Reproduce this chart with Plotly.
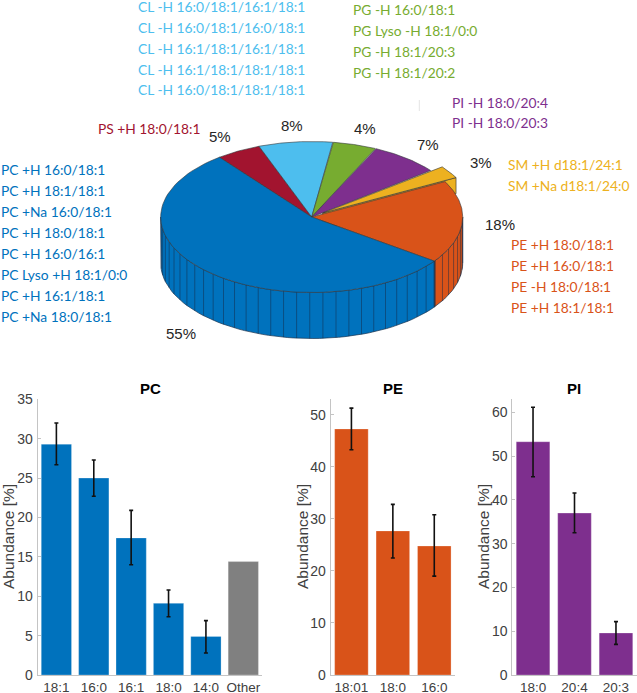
import numpy as np
import plotly.graph_objects as go

# ---------- data ----------
pie_names = ["PS", "CL", "PG", "PI", "SM", "PE", "PC"]
pie_values = [4.8, 7.9, 4.7, 7.5, 2.8, 17.7, 54.6]
pie_pct_labels = ["5%", "8%", "4%", "7%", "3%", "18%", "55%"]
pie_colors = ["#A2142F", "#4DBEEE", "#77AC30", "#7E2F8E", "#EDB120", "#D95319", "#0072BD"]

pc_cats = ["18:1", "16:0", "16:1", "18:0", "14:0", "Other"]
pc_vals = [29.3, 25.0, 17.4, 9.1, 4.9, 14.4]
pc_hi = [32.0, 27.3, 20.9, 10.8, 6.9, None]
pc_lo = [26.7, 22.7, 14.0, 7.4, 2.8, None]

pe_cats = ["18:01", "18:0", "16:0"]
pe_vals = [47.3, 27.7, 24.8]
pe_hi = [51.3, 32.8, 30.8]
pe_lo = [43.3, 22.5, 19.0]

pi_cats = ["18:0", "20:4", "20:3"]
pi_vals = [53.3, 37.0, 9.6]
pi_hi = [61.2, 41.6, 12.2]
pi_lo = [45.3, 32.5, 7.0]

label_groups = [
    (["PC +H 16:0/18:1", "PC +H 18:1/18:1", "PC +Na 16:0/18:1", "PC +H 18:0/18:1",
      "PC +H 16:0/16:1", "PC Lyso +H 18:1/0:0", "PC +H 16:1/18:1", "PC +Na 18:0/18:1"],
     "#0072BD", 0, 169, 21),
    (["PS +H 18:0/18:1"], "#A2142F", 97, 128.3, 0),
    (["CL -H 16:0/18:1/16:1/18:1", "CL -H 16:0/18:1/16:0/18:1", "CL -H 16:1/18:1/16:1/18:1",
      "CL -H 16:1/18:1/18:1/18:1", "CL -H 16:0/18:1/18:1/18:1"],
     "#4DBEEE", 137, 6.7, 20.8),
    (["PG -H 16:0/18:1", "PG Lyso -H 18:1/0:0", "PG -H 18:1/20:3", "PG -H 18:1/20:2"],
     "#77AC30", 351.7, 9.3, 20.9),
    (["PI -H 18:0/20:4", "PI -H 18:0/20:3"], "#7E2F8E", 450.7, 102, 20.7),
    (["SM +H d18:1/24:1", "SM +Na d18:1/24:0"], "#EDB120", 507, 164, 21),
    (["PE +H 18:0/18:1", "PE +H 16:0/18:1", "PE -H 18:0/18:1", "PE +H 18:1/18:1"],
     "#D95319", 510, 244, 21),
]
pct_pos = [(220, 136), (292, 125), (365, 128), (427.7, 144), (480.7, 162), (500, 224), (180.7, 333)]

# ---------- layout constants (pixels) ----------
W, H = 637, 693
CX, CY, RX, RY, DEPTH = 311.7, 217, 151, 75.5, 46
START_DEG = -37.7
EXPLODE = {"SM": (11, -4)}
RIB_DEG = 5
FONT = "Liberation Sans, Arial, sans-serif"
LABEL_FONT = "Lato, Open Sans, sans-serif"
INK = "#404040"

fig = go.Figure()

# ---------- pie: elliptical wedges whose angles come from pie_values ----------
total = sum(pie_values)
edges = START_DEG + np.concatenate([[0], np.cumsum(pie_values)]) / total * 360


def pt(deg, dx=0, dy=0, depth=0):
    r = np.radians(deg)
    return CX + dx + RX * np.sin(r), CY + dy - RY * np.cos(r) + depth


def add_poly(xs, ys, color, line="#2b2b2b", width=0.6):
    fig.add_trace(go.Scatter(x=xs, y=ys, xaxis="x4", yaxis="y4", mode="lines", fill="toself",
                             fillcolor=color, line=dict(color=line, width=width),
                             hoverinfo="skip", showlegend=False))


for i, name in enumerate(pie_names):
    a0, a1 = edges[i], edges[i + 1]
    dx, dy = EXPLODE.get(name, (0, 0))
    lo, hi = max(a0, 90), min(a1, 270)
    if name in EXPLODE:
        xs0, ys0 = pt(a1, dx, dy)
        xs1, ys1 = pt(a1, dx, dy, DEPTH * 0.35)
        xc, yc = CX + dx, CY + dy
        add_poly([xs0, xs1, xc, xc, xs0], [ys0, ys1, yc + DEPTH * 0.35, yc, ys0], pie_colors[i])
    if lo < hi:
        ang = np.linspace(lo, hi, 60)
        top = [pt(a, dx, dy) for a in ang]
        bot = [pt(a, dx, dy, DEPTH) for a in ang[::-1]]
        pts = top + bot + [top[0]]
        add_poly([p[0] for p in pts], [p[1] for p in pts], pie_colors[i], line="#1c3550", width=0.7)
        rx_, ry_ = [], []
        for a in np.arange(lo, hi, RIB_DEG):
            p, q = pt(a, dx, dy), pt(a, dx, dy, DEPTH)
            rx_ += [p[0], q[0], None]
            ry_ += [p[1], q[1], None]
        fig.add_trace(go.Scatter(x=rx_, y=ry_, xaxis="x4", yaxis="y4", mode="lines",
                                 line=dict(color="rgba(20,40,70,0.7)", width=0.7),
                                 hoverinfo="skip", showlegend=False))

for i, name in enumerate(pie_names):
    a0, a1 = edges[i], edges[i + 1]
    dx, dy = EXPLODE.get(name, (0, 0))
    ang = np.linspace(a0, a1, 80)
    pts = [pt(a, dx, dy) for a in ang]
    xs = [CX + dx] + [p[0] for p in pts] + [CX + dx]
    ys = [CY + dy] + [p[1] for p in pts] + [CY + dy]
    add_poly(xs, ys, pie_colors[i], line="#33373b", width=0.6)

# ---------- bars ----------
panels = [
    ("x", "y", pc_cats, pc_vals, pc_hi, pc_lo, "#0072BD"),
    ("x2", "y2", pe_cats, pe_vals, pe_hi, pe_lo, "#D95319"),
    ("x3", "y3", pi_cats, pi_vals, pi_hi, pi_lo, "#7E2F8E"),
]
bar_line = dict(color="rgba(255,255,255,0.25)", width=1)
for xa, ya, cats, vals, hi, lo, col in panels:
    has = [k for k, h in enumerate(hi) if h is not None]
    none = [k for k, h in enumerate(hi) if h is None]
    fig.add_trace(go.Bar(x=[cats[k] for k in has], y=[vals[k] for k in has], xaxis=xa, yaxis=ya, width=0.81,
                         marker=dict(color=col, line=bar_line),
                         error_y=dict(type="data", symmetric=False,
                                      array=[hi[k] - vals[k] for k in has],
                                      arrayminus=[vals[k] - lo[k] for k in has],
                                      color="#111111", thickness=1.6, width=2),
                         showlegend=False, hoverinfo="skip"))
    if none:
        fig.add_trace(go.Bar(x=[cats[k] for k in none], y=[vals[k] for k in none], xaxis=xa, yaxis=ya,
                             width=0.81, marker=dict(color="#808080", line=bar_line),
                             showlegend=False, hoverinfo="skip"))

# ---------- annotations (placed on the pixel overlay axes) ----------
ann = []


def text(x, y, s, color, size, family=LABEL_FONT, anchor="left", bold=False, rot=0):
    ann.append(dict(x=x, y=y, xref="x4", yref="y4", text=f"<b>{s}</b>" if bold else s,
                    showarrow=False, xanchor=anchor, yanchor="middle", textangle=rot, borderpad=0,
                    font=dict(family=family, size=size, color=color)))


for lines, color, x, y, step in label_groups:
    for k, s in enumerate(lines):
        text(x, y + k * step, s, color, 13.8)
for (x, y), s in zip(pct_pos, pie_pct_labels):
    text(x, y, s, "#262626", 15, family=FONT, anchor="center")

text(150, 388, "PC", "#000000", 15, family=FONT, anchor="center", bold=True)
text(393, 388, "PE", "#000000", 15, family=FONT, anchor="center", bold=True)
text(574, 388, "PI", "#000000", 15, family=FONT, anchor="center", bold=True)
text(8, 537, "Abundance [%]", INK, 15.5, family=FONT, anchor="center", rot=-90)
text(302, 537, "Abundance [%]", INK, 15.5, family=FONT, anchor="center", rot=-90)
text(483, 537, "Abundance [%]", INK, 15.5, family=FONT, anchor="center", rot=-90)


def xaxis(x0, x1, ycol, order):
    return dict(domain=[x0 / W, x1 / W], anchor=ycol, type="category", categoryorder="array",
                categoryarray=order, showgrid=False, zeroline=False, automargin=False,
                showline=True, linecolor="#c4c4c4", linewidth=1, ticks="", fixedrange=True,
                tickfont=dict(family=FONT, size=13.5, color=INK), ticklen=0, ticklabelstandoff=0)


def yaxis(top, dtick, xcol):
    return dict(domain=[1 - 675 / H, 1 - 399.3 / H], anchor=xcol, range=[0, top], dtick=dtick,
                showgrid=False, zeroline=False, showline=True, linecolor="#c4c4c4", linewidth=1,
                ticks="inside", ticklen=3, tickcolor="#c4c4c4", fixedrange=True, automargin=False,
                tickfont=dict(family=FONT, size=14, color=INK), ticklabelstandoff=1)


fig.update_layout(
    width=W, height=H, autosize=False, margin=dict(l=0, r=0, t=0, b=0, pad=0),
    paper_bgcolor="white", plot_bgcolor="rgba(0,0,0,0)", showlegend=False, barmode="overlay",
    xaxis=xaxis(37.7, 262, "y", pc_cats), yaxis=yaxis(35, 5, "x"),
    xaxis2=xaxis(330.7, 455, "y2", pe_cats), yaxis2=yaxis(53, 10, "x2"),
    xaxis3=xaxis(512.3, 636.7, "y3", pi_cats), yaxis3=yaxis(63, 10, "x3"),
    xaxis4=dict(domain=[0, 1], range=[0, W], visible=False, anchor="y4", fixedrange=True, automargin=False),
    yaxis4=dict(domain=[0, 1], range=[H, 0], visible=False, anchor="x4", fixedrange=True, automargin=False),
    annotations=ann,
    shapes=[dict(type="line", xref="x4", yref="y4", x0=419.3, x1=419.3, y0=100, y1=111,
                 line=dict(color="#e4e4e4", width=1))],
)
fig.write_html("out.html", config=dict(displayModeBar=False),
               post_script="document.body.style.margin='0';document.documentElement.style.overflow='hidden';")
